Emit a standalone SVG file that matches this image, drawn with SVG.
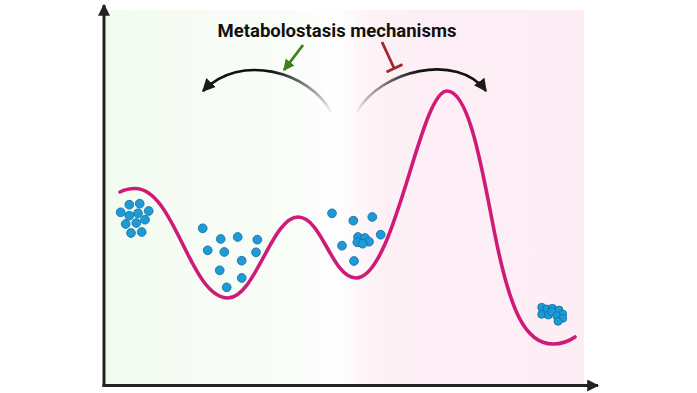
<svg xmlns="http://www.w3.org/2000/svg" width="697" height="393" viewBox="0 0 697 393">
  <style>
    .axis { stroke: #222; stroke-width: 3; fill: none; }
    .land { stroke: #cf1b78; stroke-width: 3.6; fill: none; stroke-linecap: round; }
    .cell { fill: #1e9ad6; stroke: #0d6ea3; stroke-width: 0.8; }
    .arc { stroke-width: 2.6; fill: none; }
    .title { font-family: Roboto, "Liberation Sans", sans-serif; font-weight: bold; font-size: 18.5px; fill: #111; }
  </style>
  <defs>
    <linearGradient id="bg" x1="106" y1="0" x2="584" y2="0" gradientUnits="userSpaceOnUse">
      <stop offset="0" stop-color="#f3fbf1"/>
      <stop offset="0.38" stop-color="#f9fdf8"/>
      <stop offset="0.48" stop-color="#fefefe"/>
      <stop offset="0.56" stop-color="#fdf2f7"/>
      <stop offset="0.66" stop-color="#fdeff5"/>
      <stop offset="1" stop-color="#fdeef5"/>
    </linearGradient>
    <linearGradient id="fadeL" x1="333" y1="115" x2="275" y2="66" gradientUnits="userSpaceOnUse">
      <stop offset="0" stop-color="#111" stop-opacity="0"/>
      <stop offset="1" stop-color="#111"/>
    </linearGradient>
    <linearGradient id="fadeR" x1="354" y1="115" x2="415" y2="66" gradientUnits="userSpaceOnUse">
      <stop offset="0" stop-color="#111" stop-opacity="0"/>
      <stop offset="1" stop-color="#111"/>
    </linearGradient>
    <marker id="ah" viewBox="0 0 10 10" refX="9" refY="5" markerWidth="5" markerHeight="5" orient="auto" markerUnits="strokeWidth">
      <path d="M0,0 L10,5 L0,10 Z" fill="#1a1a1a"/>
    </marker>
    <marker id="axh" viewBox="0 0 10 10" refX="9" refY="5" markerWidth="4" markerHeight="4" orient="auto" markerUnits="strokeWidth">
      <path d="M0,0 L10,5 L0,10 Z" fill="#222"/>
    </marker>
    <marker id="gh" viewBox="0 0 10 10" refX="9" refY="5" markerWidth="4" markerHeight="4" orient="auto" markerUnits="strokeWidth">
      <path d="M0,0 L10,5 L0,10 Z" fill="#3d7f1f"/>
    </marker>
  </defs>

  <rect id="background" x="106" y="10" width="478" height="374" fill="url(#bg)"/>

  <g id="axes">
    <line class="axis" x1="104" y1="387" x2="104" y2="5" marker-end="url(#axh)"/>
    <line class="axis" x1="102.5" y1="385.5" x2="598" y2="385.5" marker-end="url(#axh)"/>
  </g>

  <g id="landscape">
    <path class="land" d="M120,192 C126,189 130,188.5 135,188.5 C175,188.5 190,298 228,298 C255,298 272,217 298,217 C322,217 332,278 356,278 C395,278 420,91 447,91 C470,91 483,175 495,235 C510,310 525,344 553,344 C562,344 568,342 575,337"/>
  </g>

  <g id="title">
    <text class="title" x="337" y="37" text-anchor="middle">Metabolostasis mechanisms</text>
  </g>

  <g id="connectors">
    <path class="arc" stroke="url(#fadeL)" d="M331,112 C310,72 240,52 203,91" marker-end="url(#ah)"/>
    <path class="arc" stroke="url(#fadeR)" d="M357,112 C380,70 458,52 486,91" marker-end="url(#ah)"/>
    <line x1="303" y1="45" x2="284" y2="70" stroke="#3d7f1f" stroke-width="2.8" marker-end="url(#gh)"/>
    <g stroke="#a3262c" stroke-width="2.8" fill="none">
      <line x1="382" y1="42" x2="394" y2="68"/>
      <line x1="386.5" y1="72" x2="402.5" y2="64.5"/>
    </g>
  </g>

  <g id="cluster-start">
    <circle class="cell" cx="129.3" cy="204.7" r="4.4"/>
    <circle class="cell" cx="139.7" cy="203.7" r="4.4"/>
    <circle class="cell" cx="120.7" cy="212.3" r="4.4"/>
    <circle class="cell" cx="129.3" cy="215.7" r="4.4"/>
    <circle class="cell" cx="138" cy="213.3" r="4.4"/>
    <circle class="cell" cx="148.7" cy="211" r="4.4"/>
    <circle class="cell" cx="125.7" cy="224" r="4.4"/>
    <circle class="cell" cx="136.3" cy="223" r="4.4"/>
    <circle class="cell" cx="145" cy="219.7" r="4.4"/>
    <circle class="cell" cx="131" cy="233" r="4.4"/>
    <circle class="cell" cx="141.7" cy="232" r="4.4"/>
  </g>

  <g id="cells-valley1">
    <circle class="cell" cx="202.7" cy="228.3" r="4.4"/>
    <circle class="cell" cx="220.7" cy="239" r="4.4"/>
    <circle class="cell" cx="237.7" cy="237" r="4.4"/>
    <circle class="cell" cx="257.3" cy="239.7" r="4.4"/>
    <circle class="cell" cx="207.7" cy="250.3" r="4.4"/>
    <circle class="cell" cx="224.3" cy="252" r="4.4"/>
    <circle class="cell" cx="256" cy="252.3" r="4.4"/>
    <circle class="cell" cx="241.7" cy="260.7" r="4.4"/>
    <circle class="cell" cx="219.7" cy="270.3" r="4.4"/>
    <circle class="cell" cx="241.7" cy="278" r="4.4"/>
    <circle class="cell" cx="226.7" cy="287.3" r="4.4"/>
  </g>

  <g id="cells-valley2">
    <circle class="cell" cx="332" cy="213.3" r="4.4"/>
    <circle class="cell" cx="353.3" cy="220.7" r="4.4"/>
    <circle class="cell" cx="372.3" cy="217" r="4.4"/>
    <circle class="cell" cx="380.7" cy="234.7" r="4.4"/>
    <circle class="cell" cx="342" cy="245.7" r="4.4"/>
    <circle class="cell" cx="354" cy="261" r="4.4"/>
    <circle class="cell" cx="358" cy="237" r="4.4"/>
    <circle class="cell" cx="365" cy="238" r="4.4"/>
    <circle class="cell" cx="369" cy="241.7" r="4.4"/>
    <circle class="cell" cx="357.3" cy="242.3" r="4.4"/>
    <circle class="cell" cx="362.7" cy="243.7" r="4.4"/>
  </g>

  <g id="cluster-end">
    <circle class="cell" cx="541.7" cy="307.3" r="4"/>
    <circle class="cell" cx="546.7" cy="309" r="4"/>
    <circle class="cell" cx="552.3" cy="308.3" r="4"/>
    <circle class="cell" cx="559" cy="310" r="4"/>
    <circle class="cell" cx="541.7" cy="314.3" r="4"/>
    <circle class="cell" cx="548.3" cy="315" r="4"/>
    <circle class="cell" cx="551.7" cy="311.7" r="4"/>
    <circle class="cell" cx="562.7" cy="314" r="4"/>
    <circle class="cell" cx="556.7" cy="315.7" r="4"/>
    <circle class="cell" cx="562.7" cy="318.3" r="4"/>
    <circle class="cell" cx="558" cy="321.3" r="4"/>
  </g>
</svg>
